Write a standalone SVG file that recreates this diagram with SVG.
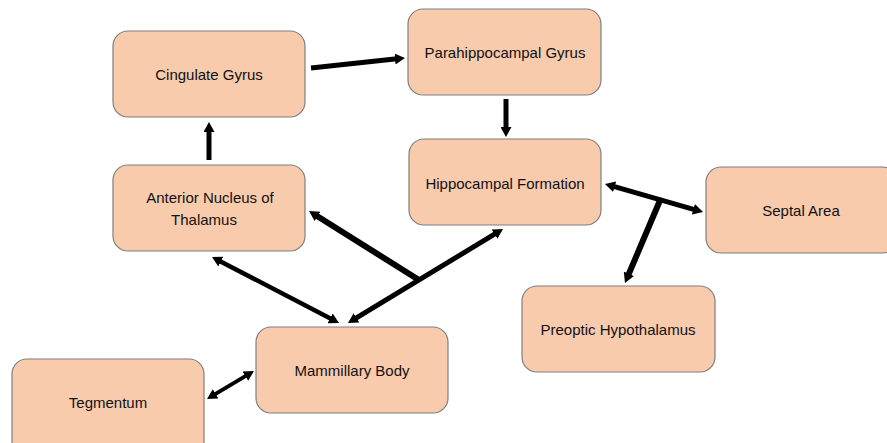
<svg xmlns="http://www.w3.org/2000/svg" width="887" height="443" viewBox="0 0 887 443">
<style>
.box{fill:#F8CBAD;stroke:#7F7F7F;stroke-width:1.2}
.t{font-family:"Liberation Sans",Arial,sans-serif;font-size:15px;fill:#111;text-anchor:middle}
.c{stroke:#000;fill:none;stroke-linecap:butt}
</style>
<defs>
<marker id="ah" markerUnits="userSpaceOnUse" markerWidth="10" markerHeight="11" refX="2" refY="5.5" orient="auto-start-reverse" viewBox="0 0 10 11">
<path d="M0,0 L10,5.5 L0,11 z" fill="#000"/>
</marker>
</defs>
<rect width="887" height="443" fill="#fff"/>
<g id="cingulate"><rect class="box" x="113" y="31" width="192" height="86" rx="15"/><text class="t" x="209" y="80">Cingulate Gyrus</text></g>
<g id="parahippocampal"><rect class="box" x="408" y="9" width="193" height="86" rx="15"/><text class="t" x="505" y="58">Parahippocampal Gyrus</text></g>
<g id="hippocampal"><rect class="box" x="409" y="139" width="192" height="86" rx="15"/><text class="t" x="505" y="189">Hippocampal Formation</text></g>
<g id="anterior"><rect class="box" x="113" y="165" width="192" height="86" rx="15"/><text class="t" x="210" y="203">Anterior Nucleus of</text><text class="t" x="204" y="225">Thalamus</text></g>
<g id="septal"><rect class="box" x="706" y="167" width="192" height="86" rx="15"/><text class="t" x="801" y="216">Septal Area</text></g>
<g id="preoptic"><rect class="box" x="522" y="286" width="193" height="86" rx="15"/><text class="t" x="618" y="335">Preoptic Hypothalamus</text></g>
<g id="mammillary"><rect class="box" x="256" y="327" width="192" height="86" rx="15"/><text class="t" x="352" y="376">Mammillary Body</text></g>
<g id="tegmentum"><rect class="box" x="12" y="359" width="192" height="100" rx="15"/><text class="t" x="108" y="408">Tegmentum</text></g>
<g id="connectors">
<line class="c" stroke-width="5" x1="311" y1="68" x2="397" y2="58.8" marker-end="url(#ah)"/>
<line class="c" stroke-width="5" x1="506" y1="99" x2="506" y2="129" marker-end="url(#ah)"/>
<line class="c" stroke-width="5" x1="209" y1="160" x2="209" y2="130" marker-end="url(#ah)"/>
<line class="c" stroke-width="4.5" x1="219.1" y1="260.7" x2="331.9" y2="319.3" marker-start="url(#ah)" marker-end="url(#ah)"/>
<line class="c" stroke-width="5" x1="354.8" y1="318.9" x2="496.2" y2="233.1" marker-start="url(#ah)" marker-end="url(#ah)"/>
<line class="c" stroke-width="6" x1="419" y1="280" x2="315.8" y2="215.3" marker-end="url(#ah)"/>
<line class="c" stroke-width="5" x1="612.7" y1="186.2" x2="695.3" y2="209.8" marker-start="url(#ah)" marker-end="url(#ah)"/>
<line class="c" stroke-width="6" x1="661" y1="198" x2="628.1" y2="275.6" marker-end="url(#ah)"/>
<line class="c" stroke-width="4" x1="213.9" y1="394.9" x2="247.1" y2="375.1" marker-start="url(#ah)" marker-end="url(#ah)"/>
</g>
</svg>
